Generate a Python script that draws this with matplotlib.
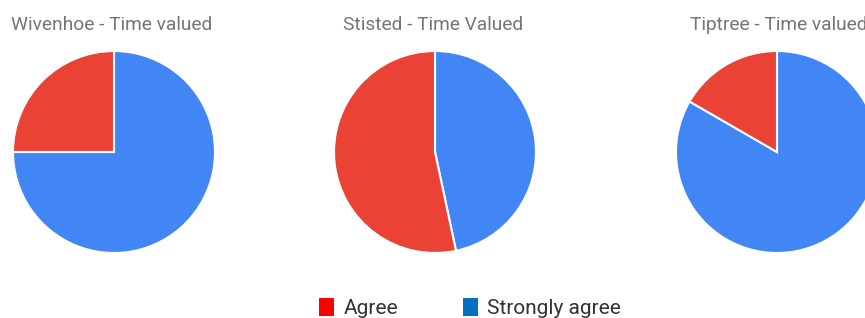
import matplotlib
matplotlib.use("Agg")
import matplotlib.pyplot as plt
from matplotlib.patches import Rectangle

plt.rcParams['font.family'] = ['Roboto', 'DejaVu Sans']

titles = ["Wivenhoe - Time valued", "Stisted - Time Valued", "Tiptree - Time valued"]
categories = ["Strongly agree", "Agree"]
strongly_agree = [75, 7, 5]
agree = [25, 8, 1]

pie_colors = {"Strongly agree": "#4285F4", "Agree": "#EA4335"}
legend_colors = {"Agree": "#FF0000", "Strongly agree": "#0070C0"}

W, H = 865, 318
fig = plt.figure(figsize=(W / 100, H / 100), dpi=100)

centers_x = [114, 435, 777]
cy = 152
r = 101
title_x = [11, 343, 690]

for i, (t, sa, ag) in enumerate(zip(titles, strongly_agree, agree)):
    cx = centers_x[i]
    ax = fig.add_axes([(cx - r) / W, (H - cy - r) / H, 2 * r / W, 2 * r / H])
    ax.pie([sa, ag], colors=[pie_colors["Strongly agree"], pie_colors["Agree"]],
           startangle=90, counterclock=False, radius=1,
           wedgeprops=dict(edgecolor="white", linewidth=1.5))
    ax.set_xlim(-1.0, 1.0)
    ax.set_ylim(-1.0, 1.0)
    ax.set_aspect("equal")
    ax.axis("off")
    fig.text(title_x[i] / W, (H - 25) / H, t, fontsize=13.8, color="#757575",
             ha="left", va="center")

# legend
leg_items = [("Agree", 319, 344), ("Strongly agree", 463, 487)]
for name, sx, tx in leg_items:
    fig.patches.append(Rectangle((sx / W, (H - 316) / H), 15 / W, 18 / H,
                                 transform=fig.transFigure, facecolor=legend_colors[name],
                                 edgecolor="none"))
    fig.text(tx / W, (H - 308) / H, name, fontsize=15, color="#333333",
             ha="left", va="center")

fig.savefig("out.png", dpi=100)
